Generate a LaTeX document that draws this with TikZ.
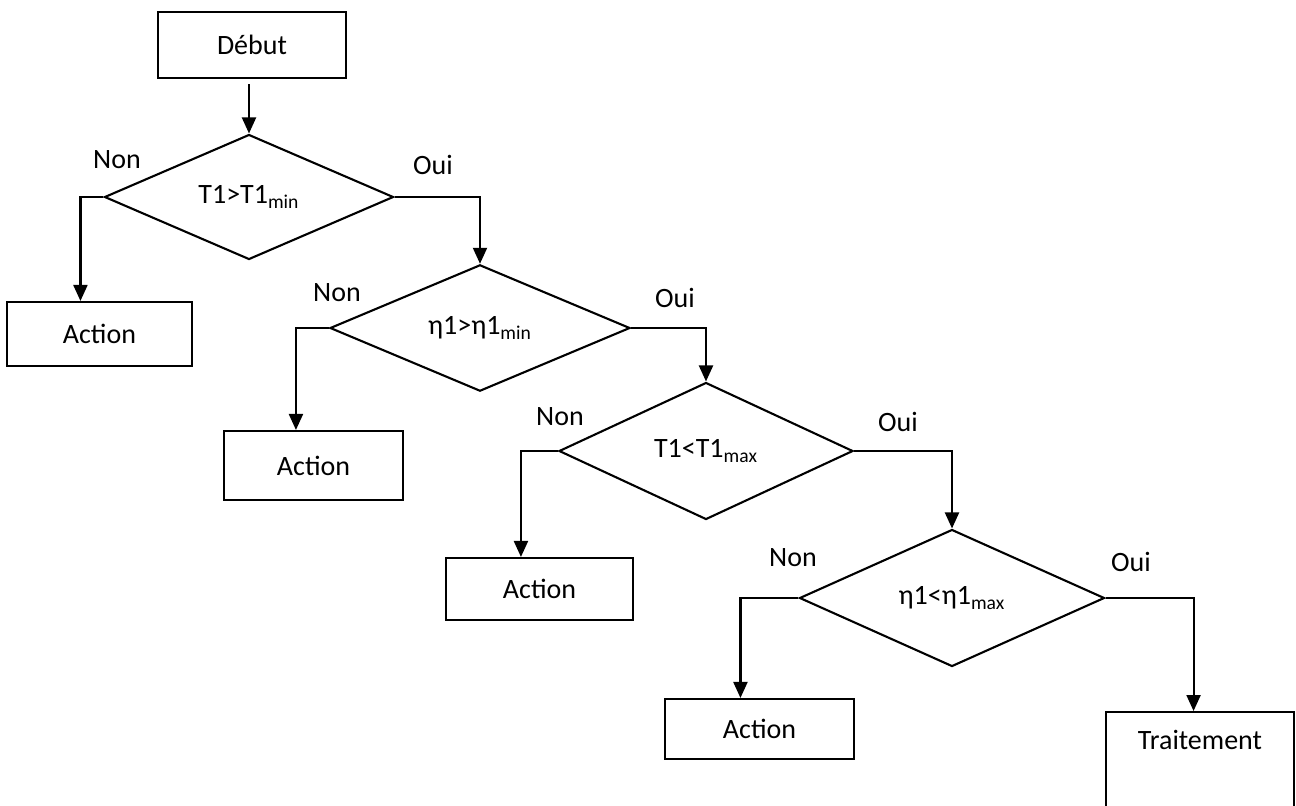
\documentclass[tikz,border=0pt]{standalone}
\usepackage{fontspec}
\setmainfont{Carlito}
\usepackage{tikz}
\usetikzlibrary{shapes.geometric,arrows.meta}

\tikzset{
  every node/.style={font=\fontsize{14pt}{17pt}\selectfont},
  box/.style={draw, line width=1.05pt, rectangle, inner sep=0pt},
  test/.style={draw, line width=1.05pt, diamond, inner sep=0pt},
  arrow/.style={line width=1.05pt, -{Triangle[width=7pt,length=8pt]}}
}

\begin{document}
\begin{tikzpicture}[x=0.5pt, y=-0.5pt]
    \useasboundingbox (0,0) rectangle (1296,805);
    \clip (0,0) rectangle (1296,805);

    \node[box, minimum width=94pt, minimum height=33pt] (start) at (252,45) {Début};

    \node[test, minimum width=144.5pt, minimum height=62.5pt] (d1) at (249,197) {T1>T1\textsubscript{min}};
    \node[test, minimum width=150pt, minimum height=61pt] (d2) at (480,328) {η1>η1\textsubscript{min}};
    \node[test, minimum width=147pt, minimum height=68.5pt] (d3) at (706,451) {T1<T1\textsubscript{max}};
    \node[test, minimum width=152.5pt, minimum height=68.5pt] (d4) at (952,598) {η1<η1\textsubscript{max}};

    \node[box, minimum width=92.5pt, minimum height=32pt] (act1) at (99.5,334) {Action};
    \node[box, minimum width=89.5pt, minimum height=34.5pt] (act2) at (313.5,465.5) {Action};
    \node[box, minimum width=93.5pt, minimum height=31pt] (act3) at (539.5,589) {Action};
    \node[box, minimum width=94.5pt, minimum height=30pt] (act4) at (759.5,729) {Action};
    \node[box, anchor=north, minimum width=94pt, inner ysep=4pt, text height=14.5pt, text depth=50pt] (trait) at (1200,711) {Traitement};

    \node (non1) at (117,160) {Non};
    \node (oui1) at (433,165) {Oui};
    \node (non2) at (337,293) {Non};
    \node (oui2) at (675,298) {Oui};
    \node (non3) at (560,417) {Non};
    \node (oui3) at (898,422) {Oui};
    \node (non4) at (793,558) {Non};
    \node (oui4) at (1131,562) {Oui};

    \draw[arrow] ([yshift=-2.5pt]start.south -| d1.north) -- (d1.north);

    \draw[arrow] (d1.west) -- ++(-23,0) coordinate (n1) -- (n1 |- act1.north);
    \draw[arrow] (d2.west) -- ++(-33,0) coordinate (n2) -- (n2 |- act2.north);
    \draw[arrow] (d3.west) -- ++(-37,0) coordinate (n3) -- (n3 |- act3.north);
    \draw[arrow] (d4.west) -- ++(-58,0) coordinate (n4) -- (n4 |- act4.north);

    \draw[arrow] (d1.east) -| (d2.north);
    \draw[arrow] (d2.east) -| (d3.north);
    \draw[arrow] (d3.east) -| (d4.north);
    \draw[arrow] (d4.east) -- ++(88,0) coordinate (o4) -- (o4 |- trait.north);

\end{tikzpicture}
\end{document}
